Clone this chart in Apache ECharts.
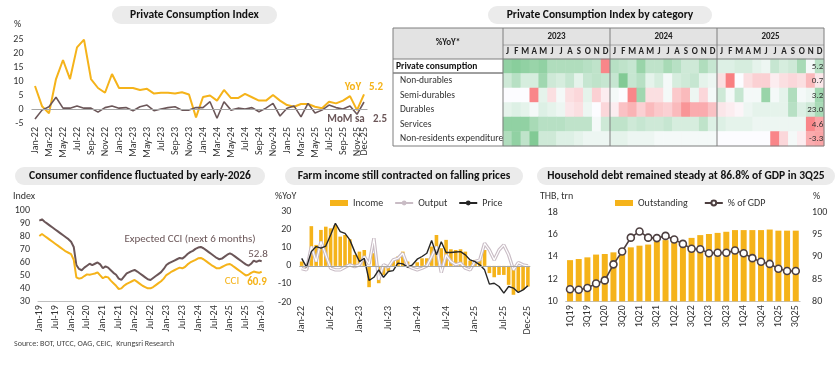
<!DOCTYPE html>
<html><head><meta charset="utf-8">
<script src="https://cdn.jsdelivr.net/npm/echarts@6/dist/echarts.min.js"></script>
<style>html,body{margin:0;padding:0;background:#fff}#c{width:840px;height:365px}</style>
</head><body><div id="c"></div>
<script>
const FONT = 'Carlito, Calibri, Lato, "Liberation Sans", sans-serif';
const ORANGE = '#F5B31A', BROWN = '#6B5658', DARK = '#262626', LBL = '#333';
const MN = ['Jan','Feb','Mar','Apr','May','Jun','Jul','Aug','Sep','Oct','Nov','Dec'];
function monthLabels(y, m, n) { const a = []; for (let i = 0; i < n; i++) { const mm = (m + i) % 12, yy = y + Math.floor((m + i) / 12); a.push(MN[mm] + '-' + String(yy).slice(2)); } return a; }

// ---- Panel 1: Private Consumption Index ----
const pciMonths = monthLabels(2022, 0, 48);
const pciYoY = [8.2,1.0,-1.5,10.7,17.5,10.7,22,24.8,10.7,7.5,5.8,12.5, 7.5,7.5,7.5,6.8,7.2,5.5,5.8,5.8,5.5,6,5.2,-3, 4.3,4.8,3,6.8,3.9,3.9,5.4,4.2,3,3,5,3, 1.4,0.8,1.8,1.8,0.8,0.3,2.6,2,3,4.6,-0.4,5.2];
const pciMoM = [-3.6,-0.4,0.8,4.2,0.3,0.3,1.1,0.3,0.3,-1.1,0.5,1.1, 0.3,0.5,-0.6,0.8,1.4,-0.6,0,0.5,0.8,-0.4,-0.4,0.5, 0.5,2.6,-3.3,2.6,-0.4,0.3,0,0.5,-1,0.3,2,-2.5, 0.3,1.1,-2.8,2,-1.4,-0.4,1.4,0.5,0,1.1,-1.9,2.5];

// ---- Panel 2: heatmap (colour-scale level, -1 red .. +1 green) ----
const hmRows = ['Private consumption','Non-durables','Semi-durables','Durables','Services','Non-residents expenditure'];
const hmYears = ['2023','2024','2025'];
const hmLetters = ['J','F','M','A','M','J','J','A','S','O','N','D'];
const hmPrivCons = [0.7,0.75,0.7,0.65,0.7,0.5,0.5,0.5,0.5,0.45,0.4,-0.8, 0.45,0.4,0.35,0.65,0.4,0.4,0.55,0.45,0.3,0.3,0.5,0.35, 0.2,0.2,0.25,0.25,0.15,0.1,0.35,0.25,0.3,0.55,0.05,0.45];
const hmNonDur = [0.3,0.45,0.25,0.25,0.6,0.3,0.25,0.35,0.15,0.35,0.4,0.35, 0.35,0.8,0.35,0.45,0.15,0.25,0.05,0.25,0.3,0.35,0.15,0.1, -0.2,-0.85,0,-0.2,-0.3,-0.3,-0.1,-0.2,-0.25,-0.2,-0.45,-0.15];
const hmSemiDur = [0,0,0,-0.8,0.15,-0.2,0.05,-0.2,-0.25,0.15,-0.3,-0.1, 0.05,0,-0.8,0.6,-0.2,-0.2,0.05,-0.35,-0.45,0.1,-0.25,0.05, 0.3,0.05,0.35,0.05,0.05,0.65,0.05,0.15,0.5,0.05,0.1,0.6];
const hmDur = [0.15,0.2,0.15,0.05,0.2,0.15,0.1,-0.15,-0.2,0.1,0,-0.25, -0.1,-0.4,-0.5,-0.3,-0.45,-0.35,-0.3,-0.45,-0.7,-0.55,-0.55,-0.4, -0.15,-0.1,-0.05,0.1,0.15,0.15,0.15,0.15,0.45,0.2,0.3,0.55];
const hmServices = [0.7,0.7,0.7,0.55,0.45,0.45,0.45,0.4,0.4,0.4,0.05,0.3, 0.4,0.4,0.3,0.35,0.3,0.3,0.35,0.25,0.25,0.25,0.4,0.2, 0.2,0.15,0.15,0.15,0.1,0.1,0.1,0.1,0.1,0.1,-0.8,-0.6];
const hmNonRes = [0.5,0.7,0.4,0.8,0.3,0.3,0.2,0.2,0.15,0.1,0.1,0.1, 0.15,0.15,0.1,0.1,0.1,0.05,0.05,0.05,0.05,0.05,0.05,0.05, 0,0,0,0,0,0,-0.8,-0.25,0.05,-0.1,-0.55,-0.6];
const hmLatest = ['5.2','0.7','3.2','23.0','4.6','-3.3'];

// ---- Panel 3: Consumer confidence ----
const cciMonths = monthLabels(2019, 0, 85);
const expCCI = [92.3,93.3,91.5,90,88.5,87,85.5,84,82.5,81,79.5,78, 76,72,58,55,54,56,57.5,59,58,59,60,58.5, 55.5,57,56,54,52,50.5,47.5,46.5,49,51.5,52.5,53.5, 54.2,53,51.5,50,48.5,47,46.5,48,49.5,51,52.5,55, 58,59.5,60.5,61.5,62.5,63.5,63,64.5,66.5,68,69,70.5, 71.5,72,71,69.5,68,66.5,65,63.5,62.5,63,64.5,66, 67,66,64.5,63,61.5,60,58.5,57.5,59,61.5,60.5,61.5, 60.9];
const cci = [80.5,82,80.5,79,77.5,76,74.5,73,71.5,70,68.5,67.5, 66.5,62,48.5,47.5,48,49.5,50.8,50.5,51,51.5,52.4,50, 47.8,49,48.5,46,44,42,39.5,40,42,43.5,44.5,45.5, 46.5,45,43.5,42,41,40,40,41,42.5,44,45.5,47.5, 50.3,51.5,53,54,55,56,55.5,56.5,58.5,60,61,62, 63.2,63.5,62.5,61,59.5,58,56.8,55.5,55.5,56.5,57.5,58.5, 58.8,57.5,56,54.5,53,51.5,50,50.5,52,53,52.5,52, 52.8];

// ---- Panel 4: Farm income ----
const farmMonths = monthLabels(2022, 0, 48);
const farmIncome = [2.4,-2,22,11.6,19.9,21.7,20.8,22.6,16.2,17.1,14.7,6.1, 7.9,8.8,-11.8,7,-9.6,-5,-3.1,3,5.2,7.9,2.4,-1, 2,4.2,4.2,10.7,17.1,9.8,14.4,9.2,8.8,9.2,7.9,2.9, 3.3,3.3,8.8,-4,-6.3,-5,-5,-10.5,-16,-14.2,-13.3,-11.4];
const farmOutput = [-1.5,-2.2,10.7,2.4,13.4,6.1,-1.3,-2.2,-2.2,-0.7,0.6,-0.4, 0.6,5.2,1,15.3,-7.7,0.6,-0.7,3.3,4.2,7,0,-1.3, -2.2,-1.3,0,5.2,10.7,-3.7,6.1,2.4,0.6,1.5,-1.3,-2.2, 2.4,3.3,12.5,8.8,3.3,8.8,11.6,6.1,-2.2,1.8,0.6,0];
const farmPrice = [4.2,-0.7,7.9,10.7,9.8,11,17.1,23.6,19,18,14.4,7.9, 2.4,4.2,-8.1,-6.3,-2.2,-6.3,-3.1,-2.6,1.5,1.1,-0.7,0.6, 3.7,5.2,7,14,6.1,13.4,7.4,7.4,7.7,7.9,6.1,3.3, 2.4,0.6,-2.2,-10.1,-9.6,-11.4,-15.1,-11.4,-12.3,-14.7,-13.3,-11];

// ---- Panel 5: Household debt ----
const debtQuarters = ['1Q19','2Q19','3Q19','4Q19','1Q20','2Q20','3Q20','4Q20','1Q21','2Q21','3Q21','4Q21','1Q22','2Q22','3Q22','4Q22','1Q23','2Q23','3Q23','4Q23','1Q24','2Q24','3Q24','4Q24','1Q25','2Q25','3Q25'];
const debtOutstanding = [13.7,13.8,13.95,14.2,14.25,14.4,14.75,14.85,15,15.1,15.35,15.5,15.55,15.45,15.7,15.95,16.05,16.15,16.25,16.4,16.4,16.4,16.4,16.45,16.35,16.35,16.35];
const debtGDP = [82.7,82.6,83,84,84.7,88.3,91.2,94.3,95.7,94.3,94.2,94.7,93.9,92.9,91.8,91.7,90.8,90.9,90.9,91.4,90.8,89.7,88.9,88.4,87.3,86.8,86.8];

// ---------- build ----------
const hmMatrix = [hmPrivCons, hmNonDur, hmSemiDur, hmDur, hmServices, hmNonRes];
const hmCats = [];
hmYears.forEach(y => hmLetters.forEach((l, i) => hmCats.push(y + '-' + i)));
const hmData = [];
hmMatrix.forEach((row, r) => row.forEach((v, c) => {
  if (c === row.length - 1) hmData.push({ value: [c, r, v], label: { show: true, formatter: hmLatest[r] } });
  else hmData.push([c, r, v]);
}));

const axLabel = { fontSize: 10, color: LBL, fontFamily: FONT };
// show every category slot (interval 0) and blank the ones that the reference does not label
function catX(grid, data, showFn, extra) {
  return Object.assign({ type: 'category', gridIndex: grid, data: data, boundaryGap: true,
    axisLine: { show: false }, axisTick: { show: false },
    axisLabel: Object.assign({}, axLabel, { rotate: 90, interval: 0, margin: 4, hideOverlap: false,
      formatter: (v, i) => showFn(i) ? v : '' }) }, extra || {});
}
function valY(grid, min, max, interval, extra) {
  return Object.assign({ type: 'value', gridIndex: grid, min: min, max: max, interval: interval,
    axisLine: { show: false }, axisTick: { show: false }, splitLine: { show: false },
    axisLabel: Object.assign({}, axLabel, { margin: 8 }) }, extra || {});
}
const zeroLine = { silent: true, symbol: 'none', label: { show: false }, animation: false,
  lineStyle: { color: '#a6a6a6', type: 'solid', width: 1 }, data: [{ yAxis: 0 }] };

function pill(x, y, w, h, text, cx) {
  return { type: 'group', children: [
    { type: 'rect', z: 0, shape: { x: x, y: y, width: w, height: h, r: h / 2 }, style: { fill: '#ebebeb' } },
    { type: 'text', z: 60, x: cx, y: y + h / 2, style: { text: text, font: 'bold 11.5px ' + FONT, fill: '#111', textAlign: 'center', textVerticalAlign: 'middle' } }
  ] };
}
function txt(x, y, s, font, fill, align) {
  return { type: 'text', z: 60, x: x, y: y, style: { text: s, font: font, fill: fill || LBL, textAlign: align || 'left', textVerticalAlign: 'middle' } };
}
function hline(x1, x2, y, c, w) { return { type: 'line', z: 50, shape: { x1: x1, y1: y, x2: x2, y2: y }, style: { stroke: c || '#8c8c8c', lineWidth: w || 1 } }; }
function vline(x, y1, y2, c, w) { return { type: 'line', z: 50, shape: { x1: x, y1: y1, x2: x, y2: y2 }, style: { stroke: c || '#8c8c8c', lineWidth: w || 1 } }; }

const graphic = [
  pill(112, 6, 165, 18, 'Private Consumption Index', 194.5),
  pill(488, 6, 224, 18, 'Private Consumption Index by category', 600),
  pill(15, 167, 250, 18, 'Consumer confidence fluctuated by early-2026', 140),
  pill(285, 167, 238, 18, 'Farm income still contracted on falling prices', 404),
  pill(537, 167, 298, 18, 'Household debt remained steady at 86.8% of GDP in 3Q25', 686),
  // axis names
  txt(14, 24, '%', '10px ' + FONT),
  txt(13, 196, 'Index', '10px ' + FONT),
  txt(275, 196, '%YoY', '10px ' + FONT),
  txt(540, 196, 'THB, trn', '10px ' + FONT),
  txt(813, 196, '%', '10px ' + FONT),
  // panel 1 annotations
  txt(353, 87, 'YoY', 'bold 11px ' + FONT, ORANGE, 'center'),
  txt(376, 87, '5.2', 'bold 11px ' + FONT, ORANGE, 'center'),
  txt(346, 119, 'MoM sa', 'bold 11px ' + FONT, BROWN, 'center'),
  txt(380, 119, '2.5', 'bold 11px ' + FONT, BROWN, 'center'),
  // panel 3 annotations
  txt(190, 239, 'Expected CCI (next 6 months)', '11px ' + FONT, BROWN, 'center'),
  txt(232, 281, 'CCI', '11px ' + FONT, ORANGE, 'center'),
  txt(258, 254, '52.8', '11px ' + FONT, BROWN, 'center'),
  txt(257, 282, '60.9', 'bold 11px ' + FONT, ORANGE, 'center'),
  // source
  txt(14, 344, 'Source: BOT, UTCC, OAG, CEIC,  Krungsri Research', '8px ' + FONT, '#444'),
  // heatmap table frame
  { type: 'rect', z: -10, shape: { x: 393, y: 28, width: 431, height: 31 }, style: { fill: '#e3e3e3' } },
  txt(448, 43, '%YoY*', 'bold 9px ' + FONT, '#222', 'center'),
  txt(556.5, 37, '2023', 'bold 9px ' + FONT, '#222', 'center'),
  txt(663.5, 37, '2024', 'bold 9px ' + FONT, '#222', 'center'),
  txt(770.5, 37, '2025', 'bold 9px ' + FONT, '#222', 'center'),
  hline(503, 824, 45, '#a6a6a6'),
  hline(393, 824, 59, '#7f7f7f'),
  hline(393, 503, 73, '#404040'),
  vline(503, 28, 146, '#7f7f7f'),
  vline(610, 28, 146, '#7f7f7f'),
  vline(717, 28, 146, '#7f7f7f'),
  { type: 'rect', z: 50, shape: { x: 393, y: 28, width: 431, height: 118 }, style: { fill: 'none', stroke: '#7f7f7f', lineWidth: 1 } }
];

const option = {
  animation: false,
  textStyle: { fontFamily: FONT },
  grid: [
    { left: 31.5, top: 39, width: 336, height: 84 },
    { left: 503, top: 59, width: 321, height: 87 },
    { left: 38, top: 210.7, width: 225, height: 90.6 },
    { left: 299.3, top: 211.7, width: 231, height: 90.3 },
    { left: 565.7, top: 212.3, width: 234.4, height: 89 }
  ],
  xAxis: [
    catX(0, pciMonths, (i) => i % 2 === 0 || i === 47),
    { type: 'category', gridIndex: 1, data: hmCats, position: 'top', boundaryGap: true, z: 30,
      axisLine: { show: false }, axisTick: { show: false },
      axisLabel: { interval: 0, margin: 3, fontSize: 9, fontWeight: 'bold', color: '#222', fontFamily: FONT, hideOverlap: false,
        formatter: (v, i) => hmLetters[i % 12] } },
    catX(2, cciMonths, (i) => i % 6 === 0, { axisLine: { show: true, lineStyle: { color: '#bfbfbf' } } }),
    catX(3, farmMonths, (i) => i % 6 === 0 || i === 47),
    catX(4, debtQuarters, (i) => i % 2 === 0, { axisLine: { show: true, lineStyle: { color: '#bfbfbf' } } })
  ],
  yAxis: [
    valY(0, -5, 25, 5),
    { type: 'category', gridIndex: 1, data: hmRows, inverse: true, z: 30,
      axisLine: { show: false }, axisTick: { show: false },
      axisLabel: { align: 'left', margin: 107, fontFamily: FONT, color: '#222', fontSize: 9.5,
        formatter: (v, i) => i === 0 ? '{b|' + v + '}' : '{n|' + v + '}',
        rich: { b: { fontWeight: 'bold', fontSize: 9.5, color: '#111' }, n: { fontSize: 9.5, color: '#333', padding: [0, 0, 0, 4] } } } },
    valY(2, 30, 100, 10),
    valY(3, -20, 30, 10),
    valY(4, 10, 18, 2),
    valY(4, 80, 100, 5, { position: 'right', axisLabel: Object.assign({}, axLabel, { margin: 12 }) })
  ],
  visualMap: [{ type: 'continuous', show: false, seriesIndex: 2, dimension: 2, min: -1, max: 1,
    inRange: { color: ['#F8696B', '#FCFCFF', '#63BE7B'] } }],
  legend: [
    { left: 330, top: 198, itemWidth: 18, itemHeight: 6, itemGap: 11, padding: 0,
      textStyle: { fontSize: 10, color: LBL, fontFamily: FONT },
      data: [{ name: 'Income', icon: 'rect' }, { name: 'Output' }, { name: 'Price' }] },
    { left: 615, top: 198, itemWidth: 18, itemHeight: 6, itemGap: 16, padding: 0,
      textStyle: { fontSize: 10, color: LBL, fontFamily: FONT },
      data: [{ name: 'Outstanding', icon: 'rect' }, { name: '% of GDP' }] }
  ],
  series: [
    { name: 'YoY', type: 'line', xAxisIndex: 0, yAxisIndex: 0, data: pciYoY, symbol: 'none', z: 3,
      lineStyle: { color: ORANGE, width: 2 }, itemStyle: { color: ORANGE }, markLine: zeroLine },
    { name: 'MoM sa', type: 'line', xAxisIndex: 0, yAxisIndex: 0, data: pciMoM, symbol: 'none', z: 4,
      lineStyle: { color: BROWN, width: 1.6 }, itemStyle: { color: BROWN } },
    { name: 'heat', type: 'heatmap', xAxisIndex: 1, yAxisIndex: 1, data: hmData,
      itemStyle: { borderWidth: 0 }, emphasis: { disabled: true },
      label: { show: false, position: 'insideRight', distance: 1, fontSize: 9, color: '#333', fontFamily: FONT } },
    { name: 'Expected CCI', type: 'line', xAxisIndex: 2, yAxisIndex: 2, data: expCCI, symbol: 'none',
      lineStyle: { color: BROWN, width: 2 }, itemStyle: { color: BROWN } },
    { name: 'CCI', type: 'line', xAxisIndex: 2, yAxisIndex: 2, data: cci, symbol: 'none',
      lineStyle: { color: ORANGE, width: 2 }, itemStyle: { color: ORANGE } },
    { name: 'Income', type: 'bar', xAxisIndex: 3, yAxisIndex: 3, data: farmIncome, barWidth: 3.6,
      itemStyle: { color: ORANGE }, markLine: zeroLine },
    { name: 'Output', type: 'line', xAxisIndex: 3, yAxisIndex: 3, data: farmOutput, symbol: 'none',
      lineStyle: { color: '#c9bcc5', width: 3.4 }, itemStyle: { color: '#c9bcc5' } },
    { name: 'OutputInner', type: 'line', xAxisIndex: 3, yAxisIndex: 3, data: farmOutput, symbol: 'none',
      lineStyle: { color: '#ffffff', width: 1.2 }, itemStyle: { color: '#fff' } },
    { name: 'Price', type: 'line', xAxisIndex: 3, yAxisIndex: 3, data: farmPrice, symbol: 'none',
      lineStyle: { color: DARK, width: 1.4 }, itemStyle: { color: DARK } },
    { name: 'Outstanding', type: 'bar', xAxisIndex: 4, yAxisIndex: 4, data: debtOutstanding, barWidth: 6,
      itemStyle: { color: ORANGE } },
    { name: '% of GDP', type: 'line', xAxisIndex: 4, yAxisIndex: 5, data: debtGDP, symbol: 'circle', symbolSize: 7,
      lineStyle: { color: '#4D3F40', width: 1.6 },
      itemStyle: { color: '#fff', borderColor: '#4D3F40', borderWidth: 1.6 } }
  ],
  graphic: graphic
};
const chart = echarts.init(document.getElementById('c'), null, { renderer: 'canvas' });
chart.setOption(option);
</script></body></html>
